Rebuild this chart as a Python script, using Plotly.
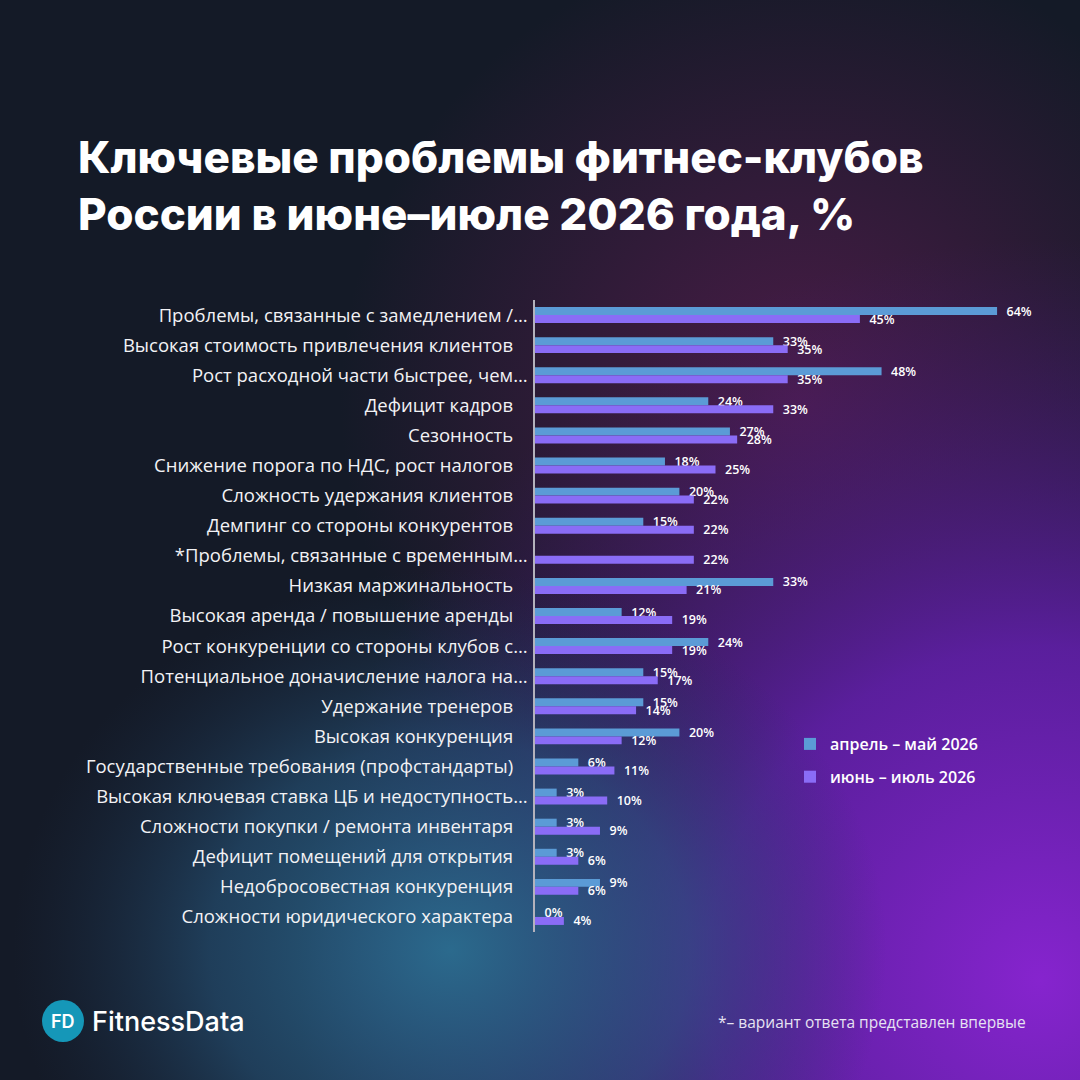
# Ключевые проблемы фитнес-клубов России, июнь–июль 2026
import base64
import plotly.graph_objects as go

# категории сверху вниз
categories = [
    "Проблемы, связанные с замедлением /…",
    "Высокая стоимость привлечения клиентов",
    "Рост расходной части быстрее, чем…",
    "Дефицит кадров",
    "Сезонность",
    "Снижение порога по НДС, рост налогов",
    "Сложность удержания клиентов",
    "Демпинг со стороны конкурентов",
    "*Проблемы, связанные с временным…",
    "Низкая маржинальность",
    "Высокая аренда / повышение аренды",
    "Рост конкуренции со стороны клубов с…",
    "Потенциальное доначисление налога на…",
    "Удержание тренеров",
    "Высокая конкуренция",
    "Государственные требования (профстандарты)",
    "Высокая ключевая ставка ЦБ и недоступность…",
    "Сложности покупки / ремонта инвентаря",
    "Дефицит помещений для открытия",
    "Недобросовестная конкуренция",
    "Сложности юридического характера",
]

apr_may = [64, 33, 48, 24, 27, 18, 20, 15, None, 33, 12, 24, 15, 15, 20, 6, 3, 3, 3, 9, 0]
jun_jul = [45, 35, 35, 33, 28, 25, 22, 22, 22, 21, 19, 19, 17, 14, 12, 11, 10, 9, 6, 6, 4]

series_names = ["апрель – май 2026", "июнь – июль 2026"]
colors = ["#5b9bd6", "#8a6cf6"]

# геометрия: область графика в пикселях
W, H = 1080, 1080
L, R, T, B = 535, 20, 300, 148
PW, PH = W - L - R, H - T - B


def px(x):
    return (x - L) / PW


def py(y):
    return (H - B - y) / PH


# неусечённые подписи чуть отодвинуты от оси
ticktext = [c if c.endswith("…") else c + "\u00a0\u00a0\u00a0" for c in categories]

fig = go.Figure()
for name, vals, col in zip(series_names, [apr_may, jun_jul], colors):
    fig.add_trace(go.Bar(
        y=categories, x=vals, orientation="h", name=name,
        marker=dict(color=col, line=dict(width=0)),
        text=["" if v is None else "\u00a0\u00a0%d%%" % v for v in vals],
        textposition="outside", cliponaxis=False, constraintext="none",
        textfont=dict(family="Open Sans", size=12.5, color="white", weight=600),
        legendgroup=name, hoverinfo="skip",
    ))

# фон: градиенты через svg-картинку
svg = """<svg xmlns='http://www.w3.org/2000/svg' width='1080' height='1080'>
<defs>
<radialGradient id='m' cx='800' cy='400' r='460' gradientUnits='userSpaceOnUse'>
<stop offset='0' stop-color='#4e1c4a' stop-opacity='0.95'/>
<stop offset='1' stop-color='#4e1c4a' stop-opacity='0'/></radialGradient>
<radialGradient id='p' cx='1040' cy='980' r='740' gradientUnits='userSpaceOnUse'>
<stop offset='0' stop-color='#8624ce' stop-opacity='1'/>
<stop offset='0.45' stop-color='#5f1fa6' stop-opacity='0.92'/>
<stop offset='1' stop-color='#3a1a70' stop-opacity='0'/></radialGradient>
<radialGradient id='t' cx='450' cy='950' r='380' gradientUnits='userSpaceOnUse'
 gradientTransform='translate(450 950) scale(1.15 1) translate(-450 -950)'>
<stop offset='0' stop-color='#2b6a8d' stop-opacity='1'/>
<stop offset='0.55' stop-color='#27567c' stop-opacity='0.6'/>
<stop offset='1' stop-color='#1d3350' stop-opacity='0'/></radialGradient>
</defs>
<rect width='1080' height='1080' fill='#141a27'/>
<rect width='1080' height='1080' fill='url(#m)'/>
<rect width='1080' height='1080' fill='url(#p)'/>
<rect width='1080' height='1080' fill='url(#t)'/>
</svg>"""
bg = "data:image/svg+xml;base64," + base64.b64encode(svg.encode()).decode()

fig.add_layout_image(dict(
    source=bg, xref="paper", yref="paper", x=px(0), y=py(0),
    sizex=W / PW, sizey=H / PH, xanchor="left", yanchor="top",
    sizing="stretch", layer="below",
))

# логотип
fig.add_shape(type="circle", xref="paper", yref="paper",
              x0=px(42), x1=px(84), y0=py(1000), y1=py(1042),
              fillcolor="#1597b8", line=dict(width=0))

annotations = [
    dict(text="Ключевые проблемы фитнес-клубов<br>России в июне–июле 2026 года, %",
         x=px(76), y=py(128), xanchor="left", yanchor="top", align="left",
         font=dict(family="Inter", size=44, color="white", weight=800)),
    dict(text="FD", x=px(63), y=py(1021), xanchor="center", yanchor="middle",
         font=dict(family="Inter", size=18, color="white", weight=600)),
    dict(text="FitnessData", x=px(90), y=py(1021), xanchor="left", yanchor="middle",
         font=dict(family="Inter", size=27, color="white", weight=500)),
    dict(text="*– вариант ответа представлен впервые", x=px(1028), y=py(1022),
         xanchor="right", yanchor="middle",
         font=dict(family="Open Sans", size=15.5, color="#e6e2f2")),
]
for a in annotations:
    a.update(xref="paper", yref="paper", showarrow=False)

fig.update_layout(
    width=W, height=H, margin=dict(l=L, r=R, t=T, b=B),
    paper_bgcolor="#141a27", plot_bgcolor="rgba(0,0,0,0)",
    barmode="group", bargap=0.47, bargroupgap=0,
    showlegend=True,
    legend=dict(x=px(790), y=py(727), xanchor="left", yanchor="top",
                bgcolor="rgba(0,0,0,0)", traceorder="grouped", tracegroupgap=9,
                font=dict(family="Open Sans", size=16, color="white", weight=600),
                itemwidth=30),
    annotations=annotations,
)
fig.update_xaxes(range=[0, PW / 7.22], visible=False, fixedrange=True)
fig.update_yaxes(autorange="reversed", tickvals=categories, ticktext=ticktext,
                 showline=True, linecolor="#b4b2bc", linewidth=1.5,
                 showgrid=False, zeroline=False, ticks="outside", ticklen=2,
                 tickcolor="rgba(0,0,0,0)",
                 tickfont=dict(family="Open Sans", size=18.5, color="#f2f2f5"))

# убрать отступ страницы, чтобы фигура стояла в углу окна
fig.write_html("out.html", config={"displayModeBar": False},
               post_script="document.body.style.margin='0';")
